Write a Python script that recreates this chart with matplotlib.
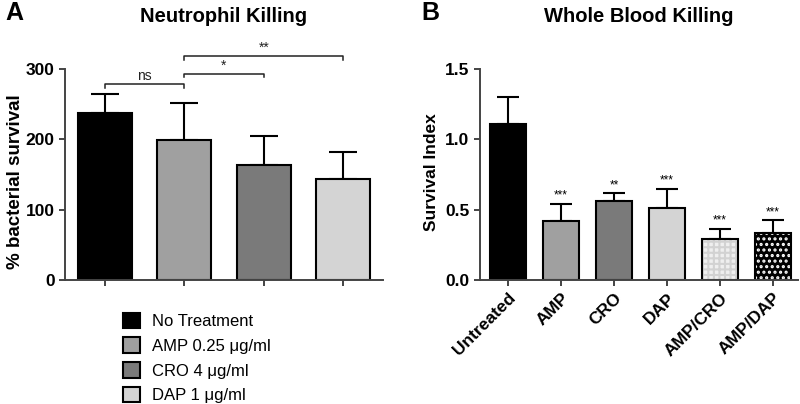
import numpy as np
import matplotlib
matplotlib.use("Agg")
import matplotlib.pyplot as plt

plt.rcParams['font.family'] = ['Liberation Sans', 'DejaVu Sans']
plt.rcParams['hatch.linewidth'] = 1.5

# panel A data
a_labels = ['No Treatment', 'AMP 0.25 \u03bcg/ml', 'CRO 4 \u03bcg/ml', 'DAP 1 \u03bcg/ml']
a_means = [238, 199, 163, 143]
a_err = [27, 52, 42, 39]
a_colors = ['#000000', '#a0a0a0', '#7a7a7a', '#d4d4d4']
# brackets: (from, to, height, text)
a_sig = [(0, 1, 278, 'ns'), (1, 2, 293, '*'), (1, 3, 318, '**')]

# panel B data
b_labels = ['Untreated', 'AMP', 'CRO', 'DAP', 'AMP/CRO', 'AMP/DAP']
b_means = [1.11, 0.42, 0.565, 0.51, 0.29, 0.335]
b_err = [0.19, 0.12, 0.05, 0.14, 0.075, 0.09]
b_stars = ['', '***', '**', '***', '***', '***']
b_colors = ['#000000', '#a0a0a0', '#7a7a7a', '#d4d4d4', '#efefef', '#000000']
b_hatch = [None, None, None, None, '+++', '...']
b_hatchcol = [None, None, None, None, '#d2d2d2', '#ffffff']

fig = plt.figure(figsize=(8, 4.04), dpi=100)
axA = fig.add_axes([65 / 800, 1 - 280 / 404, 318 / 800, 211 / 404])
axB = fig.add_axes([480 / 800, 1 - 280 / 404, 318 / 800, 211 / 404])


def style(ax):
    for s in ['top', 'right']:
        ax.spines[s].set_visible(False)
    for s in ['left', 'bottom']:
        ax.spines[s].set_color('#444444')
        ax.spines[s].set_linewidth(1.4)
    ax.tick_params(axis='both', color='#444444', width=1.4, length=4,
                   labelsize=12.5)
    for t in ax.get_yticklabels():
        t.set_fontweight('bold')


# ---- A ----
xa = np.arange(len(a_means))
barsA = axA.bar(xa, a_means, width=0.68, color=a_colors, edgecolor='black',
                linewidth=1.5, zorder=2)
axA.errorbar(xa, a_means, yerr=[np.zeros(len(a_err)), a_err], fmt='none',
             ecolor='black', elinewidth=1.5, capsize=10, capthick=1.5, zorder=1)
axA.set_xlim(-0.5, 3.5)
axA.set_ylim(0, 300)
axA.set_yticks([0, 100, 200, 300])
axA.set_xticks(xa)
axA.set_xticklabels([])
axA.set_ylabel('% bacterial survival', fontsize=13.5, fontweight='bold')
axA.yaxis.set_label_coords(-0.128, 0.465)
for i, j, h, txt in a_sig:
    axA.plot([i, i, j, j], [h - 5, h, h, h - 5], color='#222222', lw=1.1,
             clip_on=False)
    axA.text((i + j) / 2, h + 2, txt, ha='center', va='bottom', fontsize=10,
             color='#222222')
style(axA)
axA.set_title('Neutrophil Killing', fontsize=14.5, fontweight='bold', pad=34)

# ---- B ----
xb = np.arange(len(b_means))
barsB = axB.bar(xb, b_means, width=0.68, color=b_colors, edgecolor='black',
                linewidth=1.5, zorder=2)
for b, h, hc in zip(barsB, b_hatch, b_hatchcol):
    if h:
        b.set_hatch(h)
        b._hatch_color = matplotlib.colors.to_rgba(hc)
axB.errorbar(xb, b_means, yerr=[np.zeros(len(b_err)), b_err], fmt='none',
             ecolor='black', elinewidth=1.5, capsize=8, capthick=1.5, zorder=1)
for x, m, e, s in zip(xb, b_means, b_err, b_stars):
    if s:
        axB.text(x, m + e + 0.015, s, ha='center', va='bottom', fontsize=8.5)
axB.set_xlim(-0.53, 5.47)
axB.set_ylim(0, 1.5)
axB.set_yticks([0, 0.5, 1.0, 1.5])
axB.set_yticklabels(['0.0', '0.5', '1.0', '1.5'])
axB.set_xticks(xb)
axB.set_xticklabels(b_labels, rotation=45, ha='right', rotation_mode='anchor',
                    fontsize=12, fontweight='bold')
axB.set_ylabel('Survival Index', fontsize=12.5, fontweight='bold')
axB.yaxis.set_label_coords(-0.128, 0.51)
style(axB)
axB.set_title('Whole Blood Killing', fontsize=14.5, fontweight='bold', pad=34)

fig.text(5 / 800, 1 - 13 / 404, 'A', fontsize=18, fontweight='bold', va='center')
fig.text(421 / 800, 1 - 13 / 404, 'B', fontsize=18, fontweight='bold', va='center')

fig.legend(barsA, a_labels, loc='upper left',
           bbox_to_anchor=(116 / 800, 1 - 306 / 404), frameon=False,
           fontsize=12, handlelength=1.05, handleheight=1.05,
           labelspacing=0.5, handletextpad=0.7, borderaxespad=0)

fig.savefig('out.png', dpi=100)
